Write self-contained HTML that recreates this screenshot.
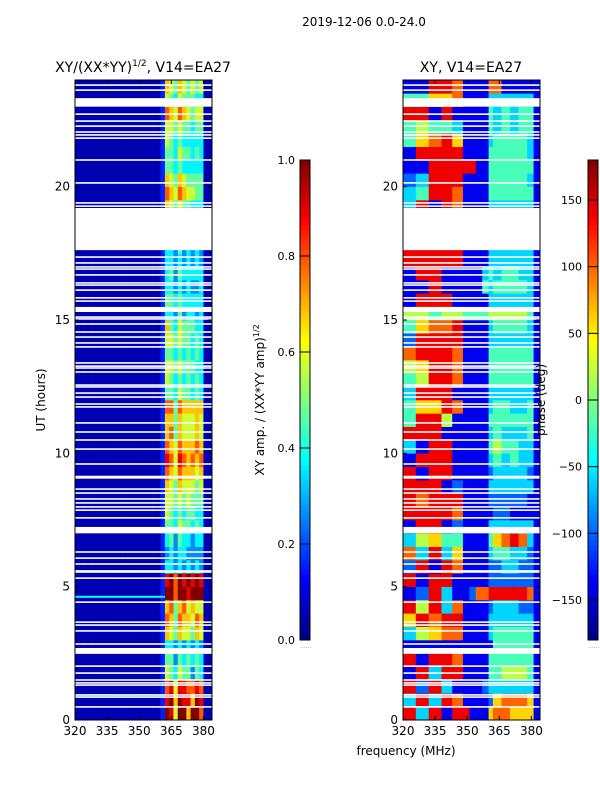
<!DOCTYPE html>
<html><head><meta charset="utf-8">
<style>
html,body{margin:0;padding:0;background:#fff;}
svg{display:block;font-family:"DejaVu Sans","Liberation Sans",sans-serif;}
</style></head>
<body>
<svg id="fig" width="600" height="800" viewBox="0 0 600 800" xmlns="http://www.w3.org/2000/svg">
<rect width="600" height="800" fill="#fff"/>
<text x="364" y="26" font-size="12" text-anchor="middle">2019-12-06 0.0-24.0</text>
<text x="143" y="72" font-size="14" text-anchor="middle">XY/(XX*YY)<tspan font-size="9" dy="-6">1/2</tspan><tspan dy="6">, V14=EA27</tspan></text>
<text x="471" y="72" font-size="14" text-anchor="middle">XY, V14=EA27</text>
<g id="amp"></g>
<g id="phs"></g>
<g id="axes"></g>
<text transform="translate(45,400) rotate(-90)" font-size="12" text-anchor="middle">UT (hours)</text>
<text x="406" y="755" font-size="12" text-anchor="middle">frequency (MHz)</text>
<text transform="translate(264,400) rotate(-90)" font-size="12" text-anchor="middle">XY amp. / (XX*YY amp)<tspan font-size="8" dy="-5">1/2</tspan></text>
<text transform="translate(545,400) rotate(-90)" font-size="12" text-anchor="middle">phase (deg)</text>
<g id="cbars"></g>
</svg>
<script>
const freqStart = 320, freqEnd = 384, hourMax = 24;
const xTicks = [320, 335, 350, 365, 380];
const yTicks = [0, 5, 10, 15, 20];
const ampTicks = [0.0, 0.2, 0.4, 0.6, 0.8, 1.0];
const phaseTicks = [-150, -100, -50, 0, 50, 100, 150];
const ampBg = "000000000000000000000000000000000000000000000000";
const ampHigh = [
"198599699700","189698869800","178588778700","154354424300","144243434300","133232323200",
"165465546500","176476657600","167467565500","199799899900","189798989800","133232323200",
"123233222200","134243323300","144354434300","154343443300","155454544400","165465554500",
"176576665600","187587676700","176576667600","167465556500","166465556500","177476666600",
"144354434300","154343434300","155454443300","144343434300","155454434300","164354443300",
"133242332300","144343333300","133232322300","134243333300","133232323200","133242323200",
"122222222200","100000000000","165454433300","176576554400","165465444400","144343333300",
"144354434300","154343333300","155454434400","176576545500","154354443300","165465454500"];
// phase column edges (MHz)
const phaseEdges = [320,326,332,338,343,348,351,354,357,360,362,366,370,374,378,381,384];
const phaseRows = [
"8381881116776661","3838711112677761","8283111123333331","1838811114455541","8188711114444441",
"1111111111444441","3567711113444441","6878811113333331","8583711112333221","1283112778888871",
"8188111112222221","2818711112233221","7383611113443321","3564411114678731","1881211113333331",
"8888711111221111","8788811112222211","8881211113333331","8188111112333321","1888111113434331",
"3188111114544331","8881111113433341","4885111114444441","4668711113443341","3888111113333331",
"4588711114444441","5688711114444441","7888711114444441","2888811113333331","4677811113444431",
"5545544445555541","1888111113333331","1181111143444431","1881111134344331","8888811113333331",
"8888811113333331","1111111111111111","1111111111111111","3818711113333331","3488711114444441",
"2388811114444431","1188888114444441","1888811114444431","4678611113444431","4544311114343441",
"8818111114343441","4466711113333331","1188711117711111"];
const ampLineHours = [4.62, 0.92];
const ampLineVals = [0.38, 0.25];
const gapStart = [17.62, 23.0, 7.0, 2.48, 15.3, 9.05];
const gapEnd   = [19.2, 23.32, 7.24, 2.7, 15.49, 9.16];
const flagHours = [23.81,23.62,22.72,22.46,22.27,22.05,21.94,21.82,21.0,20.14,19.39,19.27,17.36,17.14,16.99,16.91,16.69,16.39,16.31,16.12,15.83,15.71,15.11,15.04,14.85,14.55,14.36,14.14,13.99,13.39,13.27,13.2,13.05,12.56,12.49,12.26,12.11,11.85,11.74,11.14,10.8,10.5,10.16,9.6,8.66,8.51,8.29,8.14,7.99,7.87,7.58,6.3,6.07,5.85,5.59,5.55,5.32,4.42,3.67,3.56,3.34,2.85,2.02,1.76,1.5,1.39,1.31,0.94,0.86,0.49];

const NS = "http://www.w3.org/2000/svg";
const PY0 = 80, PY1 = 720;
function yS(h){ return PY1 - (h / hourMax) * (PY1 - PY0); }
function xS(x0){ return function(f){ return x0 + (f - freqStart) * (137 / (freqEnd - freqStart)); }; }
const xL = xS(75), xR = xS(403);
function jet(v){
  v = Math.max(0, Math.min(1, v));
  const r = Math.max(0, Math.min(1, 1.5 - Math.abs(4*v - 3)));
  const g = Math.max(0, Math.min(1, 1.5 - Math.abs(4*v - 2)));
  const b = Math.max(0, Math.min(1, 1.5 - Math.abs(4*v - 1)));
  return "rgb(" + Math.round(r*255) + "," + Math.round(g*255) + "," + Math.round(b*255) + ")";
}
function mk(tag, attrs, parent){
  const e = document.createElementNS(NS, tag);
  for (const k in attrs) e.setAttribute(k, attrs[k]);
  parent.appendChild(e); return e;
}
const amp = document.getElementById("amp"), phs = document.getElementById("phs");
const nRows = ampHigh.length;
const rowH = hourMax / nRows;
for (let r = 0; r < nRows; r++){
  const h0 = r * rowH, h1 = h0 + rowH;
  const bg = parseInt(ampBg[r]) / 9 * 0.95 + 0.05;
  for (let c = 0; c < 32; c++){
    const f0 = freqStart + c * 2;
    let v;
    if (c < 20) v = bg; else v = parseInt(ampHigh[r][c - 20]) / 9 * 0.95 + 0.05;
    const el = mk("rect", {x: xL(f0).toFixed(2), y: yS(h1).toFixed(2), width: (xL(f0+2)-xL(f0)+0.3).toFixed(2), height: (yS(h0)-yS(h1)+0.3).toFixed(2), fill: jet(v)}, amp);
    
    
  }
  for (let c = 0; c < 16; c++){
    const f0 = phaseEdges[c], f1 = phaseEdges[c + 1];
    const p = parseInt(phaseRows[r][c]) / 9 * 360 - 180;
    const el = mk("rect", {x: xR(f0).toFixed(2), y: yS(h1).toFixed(2), width: (xR(f1)-xR(f0)+0.3).toFixed(2), height: (yS(h0)-yS(h1)+0.3).toFixed(2), fill: jet((p + 180) / 360)}, phs);
    
    
  }
}
for (let i = 0; i < ampLineHours.length; i++){
  const el = mk("rect", {x: xL(freqStart), y: yS(ampLineHours[i]) - 1, width: xL(362) - xL(freqStart), height: 2, fill: jet(ampLineVals[i])}, amp);
  
  
}
[[amp, xL], [phs, xR]].forEach(function(pair){
  const g = pair[0], xs = pair[1];
  for (let i = 0; i < gapStart.length; i++){
    const el = mk("rect", {x: xs(freqStart), y: yS(gapEnd[i]), width: 137, height: yS(gapStart[i]) - yS(gapEnd[i]), fill: "#fff"}, g);
    
    
  }
  for (let i = 0; i < flagHours.length; i++){
    const el = mk("rect", {x: xs(freqStart), y: yS(flagHours[i]) - 0.8, width: 137, height: 1.6, fill: "#fff"}, g);
    
    
  }
});
const axes = document.getElementById("axes");
[[75, xL], [403, xR]].forEach(function(a){
  const x0 = a[0], xs = a[1];
  const fr = mk("rect", {x: x0, y: PY0, width: 137, height: PY1 - PY0, fill: "none", stroke: "#000", "stroke-width": 1}, axes);
  
  
  xTicks.forEach(function(t){
    const x = xs(t);
    mk("line", {x1: x, x2: x, y1: PY1, y2: PY1 - 4, stroke: "#000"}, axes);
    mk("line", {x1: x, x2: x, y1: PY0, y2: PY0 + 4, stroke: "#000"}, axes);
    const tx = mk("text", {x: x, y: PY1 + 15, "font-size": 12, "text-anchor": "middle"}, axes);
    tx.textContent = t;
    
    
  });
  yTicks.forEach(function(t){
    const y = yS(t);
    mk("line", {x1: x0, x2: x0 + 4, y1: y, y2: y, stroke: "#000"}, axes);
    mk("line", {x1: x0 + 137, x2: x0 + 133, y1: y, y2: y, stroke: "#000"}, axes);
    const tx = mk("text", {x: x0 - 5, y: y + 4, "font-size": 12, "text-anchor": "end"}, axes);
    tx.textContent = t;
    
    
  });
});
const cb = document.getElementById("cbars");
const CY0 = 160, CY1 = 640;
function cbar(x, w, ticks, vmin, vmax, labelX, anchor, name){
  const n = 96;
  for (let i = 0; i < n; i++){
    const y = CY1 - (i + 1) * (CY1 - CY0) / n;
    mk("rect", {x: x, y: y, width: w, height: (CY1 - CY0) / n + 0.3, fill: jet((i + 0.5) / n)}, cb);
  }
  const fr = mk("rect", {x: x, y: CY0, width: w, height: CY1 - CY0, fill: "none", stroke: "#000"}, cb);
  
  
  ticks.forEach(function(t){
    const y = CY1 - (t - vmin) / (vmax - vmin) * (CY1 - CY0);
    mk("line", {x1: x, x2: x + w, y1: y, y2: y, stroke: "#000"}, cb);
    const tx = mk("text", {x: labelX, y: y + 4, "font-size": 11, "text-anchor": anchor}, cb);
    tx.textContent = (vmax === 1 ? t.toFixed(1) : String(t).replace("-", "\u2212"));
    
    
  });
  const d = mk("text", {x: x, y: CY1 + 8, "font-size": 6, fill: "#888"}, cb);
  d.textContent = "......";
}
cbar(300, 10, ampTicks, 0, 1, 295, "end", "amp-colorbar");
cbar(588, 10, phaseTicks, -180, 180, 582, "end", "phase-colorbar");
</script>
</body></html>
